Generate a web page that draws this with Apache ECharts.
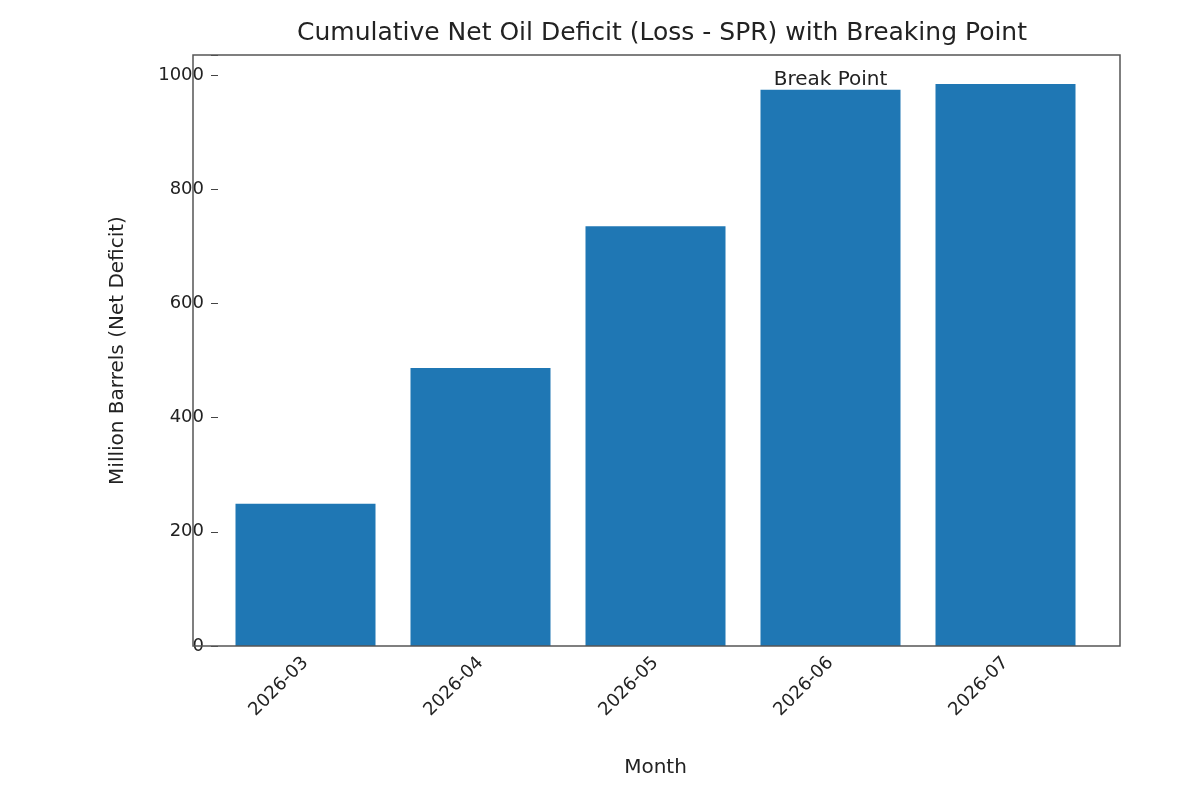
<!DOCTYPE html>
<html><head><meta charset="utf-8">
<script src="https://cdn.jsdelivr.net/npm/echarts@6/dist/echarts.min.js"></script>
<style>html,body{margin:0;background:#fff}#c{width:1200px;height:794px}</style>
</head><body><div id="c"></div>
<script>
const months = ['2026-03', '2026-04', '2026-05', '2026-06', '2026-07'];
const deficit = [249, 487, 735, 974, 984];
const yTicks = [0, 200, 400, 600, 800, 1000];

const chart = echarts.init(document.getElementById('c'));
const font = 'DejaVu Sans';
chart.setOption({
    animation: false,
    textStyle: { fontFamily: font },
    title: {
        text: 'Cumulative Net Oil Deficit (Loss - SPR) with Breaking Point',
        left: 657, top: 16, textAlign: 'center',
        textStyle: { fontSize: 25, fontWeight: 'normal', color: '#222', fontFamily: font }
    },
    graphic: [{
        type: 'rect', shape: { x: 193, y: 55, width: 927, height: 591 },
        style: { fill: 'none', stroke: '#555', lineWidth: 1.5 }, z: 10
    }],
    grid: { left: 218, right: 107, top: 55, bottom: 148 },
    xAxis: {
        type: 'category', data: months,
        name: 'Month', nameLocation: 'middle', nameGap: 112,
        nameTextStyle: { fontSize: 20, color: '#222' },
        axisLine: { show: false },
        axisTick: { alignWithLabel: true, length: 7, lineStyle: { color: '#444' } },
        axisLabel: { rotate: 45, fontSize: 18, color: '#222', margin: 14 }
    },
    yAxis: {
        type: 'value', min: 0, max: 1035, interval: 200,
        name: 'Million Barrels (Net Deficit)', nameLocation: 'middle', nameGap: 90,
        nameTextStyle: { fontSize: 20, color: '#222' },
        splitLine: { show: false },
        axisLine: { show: false },
        axisTick: { show: true, length: 7, lineStyle: { color: '#444' } },
        axisLabel: { fontSize: 18, color: '#222', margin: 14,
            formatter: v => yTicks.includes(v) ? String(v) : '' }
    },
    series: [{
        type: 'bar', data: deficit, barWidth: 140,
        itemStyle: { color: '#1f77b4' },
        markPoint: {
            symbol: 'circle', symbolSize: 0,
            data: [{ coord: ['2026-06', 974] }],
            label: { show: true, formatter: 'Break Point', position: 'top', distance: 0,
                fontSize: 20, color: '#222', fontFamily: font }
        }
    }]
});
</script></body></html>
